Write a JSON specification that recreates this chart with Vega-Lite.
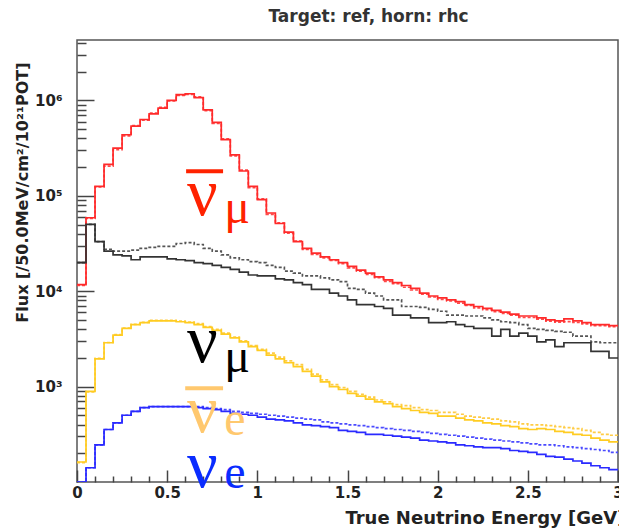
{
  "$schema": "https://vega.github.io/schema/vega-lite/v6.json",
  "width": 541,
  "height": 442,
  "autosize": {"type": "none"},
  "padding": {"left": 77, "top": 40, "right": 1, "bottom": 46},
  "background": "white",
  "config": {
    "view": {"stroke": "#555555", "strokeWidth": 1.5},
    "font": "DejaVu Sans"
  },
  "title": {
    "text": "Target: ref, horn: rhc",
    "font": "DejaVu Sans",
    "fontSize": 17,
    "fontWeight": "bold",
    "color": "#333333",
    "anchor": "middle",
    "dx": 21,
    "offset": 14
  },
  "resolve": {"axis": {"x": "independent", "y": "independent"}},
  "datasets": {
    "flux": [
      {"E": 0, "numubar": 11750, "numubar_b": 11500, "numu": 19950, "numu_b": 19950, "nuebar": 162, "nuebar_b": 160, "nue": 100, "nue_b": 100},
      {"E": 0.05, "numubar": 58880, "numubar_b": 58000, "numu": 50120, "numu_b": 50120, "nuebar": 891, "nuebar_b": 880, "nue": 141, "nue_b": 141},
      {"E": 0.1, "numubar": 125900, "numubar_b": 124000, "numu": 33110, "numu_b": 33110, "nuebar": 1950, "nuebar_b": 1980, "nue": 245, "nue_b": 245},
      {"E": 0.15, "numubar": 213800, "numubar_b": 205000, "numu": 26300, "numu_b": 27540, "nuebar": 2884, "nuebar_b": 2900, "nue": 355, "nue_b": 355},
      {"E": 0.2, "numubar": 316200, "numubar_b": 305000, "numu": 23990, "numu_b": 26300, "nuebar": 3467, "nuebar_b": 3500, "nue": 417, "nue_b": 417},
      {"E": 0.25, "numubar": 436500, "numubar_b": 425000, "numu": 23440, "numu_b": 26300, "nuebar": 4074, "nuebar_b": 4100, "nue": 501, "nue_b": 501},
      {"E": 0.3, "numubar": 537000, "numubar_b": 545000, "numu": 21380, "numu_b": 26920, "nuebar": 4467, "nuebar_b": 4500, "nue": 550, "nue_b": 550},
      {"E": 0.35, "numubar": 631000, "numubar_b": 620000, "numu": 22910, "numu_b": 28180, "nuebar": 4677, "nuebar_b": 4720, "nue": 603, "nue_b": 603},
      {"E": 0.4, "numubar": 724400, "numubar_b": 735000, "numu": 22910, "numu_b": 28840, "nuebar": 4898, "nuebar_b": 4950, "nue": 617, "nue_b": 617},
      {"E": 0.45, "numubar": 831800, "numubar_b": 845000, "numu": 22910, "numu_b": 29510, "nuebar": 4898, "nuebar_b": 4950, "nue": 617, "nue_b": 617},
      {"E": 0.5, "numubar": 1000000, "numubar_b": 990000, "numu": 21880, "numu_b": 29510, "nuebar": 4898, "nuebar_b": 4950, "nue": 617, "nue_b": 617},
      {"E": 0.55, "numubar": 1148000, "numubar_b": 1130000, "numu": 21380, "numu_b": 31620, "nuebar": 4786, "nuebar_b": 4850, "nue": 617, "nue_b": 617},
      {"E": 0.6, "numubar": 1175000, "numubar_b": 1160000, "numu": 20890, "numu_b": 32360, "nuebar": 4677, "nuebar_b": 4750, "nue": 617, "nue_b": 617},
      {"E": 0.65, "numubar": 1072000, "numubar_b": 1090000, "numu": 19950, "numu_b": 30900, "nuebar": 4467, "nuebar_b": 4571, "nue": 603, "nue_b": 617},
      {"E": 0.7, "numubar": 794300, "numubar_b": 780000, "numu": 19500, "numu_b": 28180, "nuebar": 4169, "nuebar_b": 4266, "nue": 589, "nue_b": 603},
      {"E": 0.75, "numubar": 588800, "numubar_b": 575000, "numu": 18620, "numu_b": 26300, "nuebar": 3890, "nuebar_b": 3981, "nue": 575, "nue_b": 589},
      {"E": 0.8, "numubar": 389000, "numubar_b": 395000, "numu": 17780, "numu_b": 23990, "nuebar": 3548, "nuebar_b": 3631, "nue": 550, "nue_b": 575},
      {"E": 0.85, "numubar": 269200, "numubar_b": 262000, "numu": 16980, "numu_b": 22390, "nuebar": 3236, "nuebar_b": 3311, "nue": 525, "nue_b": 550},
      {"E": 0.9, "numubar": 182000, "numubar_b": 186000, "numu": 15850, "numu_b": 21380, "nuebar": 2951, "nuebar_b": 3020, "nue": 513, "nue_b": 537},
      {"E": 0.95, "numubar": 125900, "numubar_b": 122000, "numu": 14790, "numu_b": 20420, "nuebar": 2630, "nuebar_b": 2692, "nue": 501, "nue_b": 525},
      {"E": 1.0, "numubar": 91200, "numubar_b": 93000, "numu": 14450, "numu_b": 19950, "nuebar": 2399, "nuebar_b": 2455, "nue": 479, "nue_b": 513},
      {"E": 1.05, "numubar": 66070, "numubar_b": 64000, "numu": 14450, "numu_b": 18620, "nuebar": 2138, "nuebar_b": 2239, "nue": 457, "nue_b": 501},
      {"E": 1.1, "numubar": 51290, "numubar_b": 52000, "numu": 13490, "numu_b": 17780, "nuebar": 1950, "nuebar_b": 2042, "nue": 447, "nue_b": 490},
      {"E": 1.15, "numubar": 41690, "numubar_b": 40500, "numu": 13180, "numu_b": 16220, "nuebar": 1778, "nuebar_b": 1862, "nue": 437, "nue_b": 479},
      {"E": 1.2, "numubar": 33110, "numubar_b": 33500, "numu": 12300, "numu_b": 15490, "nuebar": 1622, "nuebar_b": 1698, "nue": 417, "nue_b": 468},
      {"E": 1.25, "numubar": 28180, "numubar_b": 27500, "numu": 11750, "numu_b": 14450, "nuebar": 1445, "nuebar_b": 1514, "nue": 398, "nue_b": 457},
      {"E": 1.3, "numubar": 25120, "numubar_b": 24300, "numu": 10470, "numu_b": 14450, "nuebar": 1288, "nuebar_b": 1349, "nue": 389, "nue_b": 447},
      {"E": 1.35, "numubar": 22910, "numubar_b": 22400, "numu": 10470, "numu_b": 13800, "nuebar": 1122, "nuebar_b": 1175, "nue": 380, "nue_b": 427},
      {"E": 1.4, "numubar": 21380, "numubar_b": 21000, "numu": 9550, "numu_b": 13180, "nuebar": 1000, "nuebar_b": 1047, "nue": 372, "nue_b": 417},
      {"E": 1.45, "numubar": 19950, "numubar_b": 19400, "numu": 8913, "numu_b": 12590, "nuebar": 933, "nuebar_b": 977, "nue": 347, "nue_b": 407},
      {"E": 1.5, "numubar": 18200, "numubar_b": 17600, "numu": 8128, "numu_b": 10720, "nuebar": 851, "nuebar_b": 891, "nue": 339, "nue_b": 398},
      {"E": 1.55, "numubar": 16600, "numubar_b": 16200, "numu": 7244, "numu_b": 10470, "nuebar": 794, "nuebar_b": 832, "nue": 331, "nue_b": 389},
      {"E": 1.6, "numubar": 15490, "numubar_b": 15000, "numu": 7244, "numu_b": 9550, "nuebar": 741, "nuebar_b": 776, "nue": 316, "nue_b": 380},
      {"E": 1.65, "numubar": 14130, "numubar_b": 13900, "numu": 6918, "numu_b": 8913, "nuebar": 692, "nuebar_b": 724, "nue": 316, "nue_b": 372},
      {"E": 1.7, "numubar": 13180, "numubar_b": 12700, "numu": 6607, "numu_b": 8128, "nuebar": 661, "nuebar_b": 692, "nue": 309, "nue_b": 363},
      {"E": 1.75, "numubar": 12300, "numubar_b": 12000, "numu": 5623, "numu_b": 8128, "nuebar": 617, "nuebar_b": 646, "nue": 302, "nue_b": 355},
      {"E": 1.8, "numubar": 11480, "numubar_b": 11000, "numu": 5623, "numu_b": 6918, "nuebar": 589, "nuebar_b": 631, "nue": 295, "nue_b": 347},
      {"E": 1.85, "numubar": 10720, "numubar_b": 10300, "numu": 5248, "numu_b": 6918, "nuebar": 562, "nuebar_b": 603, "nue": 288, "nue_b": 339},
      {"E": 1.9, "numubar": 9550, "numubar_b": 9300, "numu": 5248, "numu_b": 6761, "nuebar": 537, "nuebar_b": 575, "nue": 275, "nue_b": 331},
      {"E": 1.95, "numubar": 8913, "numubar_b": 8700, "numu": 4677, "numu_b": 6457, "nuebar": 525, "nuebar_b": 562, "nue": 269, "nue_b": 324},
      {"E": 2.0, "numubar": 8511, "numubar_b": 8200, "numu": 4677, "numu_b": 6166, "nuebar": 490, "nuebar_b": 537, "nue": 263, "nue_b": 316},
      {"E": 2.05, "numubar": 8128, "numubar_b": 7900, "numu": 4786, "numu_b": 5623, "nuebar": 490, "nuebar_b": 537, "nue": 257, "nue_b": 309},
      {"E": 2.1, "numubar": 7762, "numubar_b": 7500, "numu": 4467, "numu_b": 5623, "nuebar": 468, "nuebar_b": 513, "nue": 245, "nue_b": 302},
      {"E": 2.15, "numubar": 7244, "numubar_b": 7100, "numu": 4266, "numu_b": 5495, "nuebar": 447, "nuebar_b": 490, "nue": 240, "nue_b": 295},
      {"E": 2.2, "numubar": 6918, "numubar_b": 6700, "numu": 4074, "numu_b": 5495, "nuebar": 437, "nuebar_b": 479, "nue": 234, "nue_b": 288},
      {"E": 2.25, "numubar": 6607, "numubar_b": 6400, "numu": 4074, "numu_b": 5248, "nuebar": 417, "nuebar_b": 468, "nue": 229, "nue_b": 282},
      {"E": 2.3, "numubar": 6310, "numubar_b": 6100, "numu": 3388, "numu_b": 5012, "nuebar": 407, "nuebar_b": 457, "nue": 229, "nue_b": 275},
      {"E": 2.35, "numubar": 6026, "numubar_b": 5850, "numu": 3981, "numu_b": 4786, "nuebar": 389, "nuebar_b": 437, "nue": 224, "nue_b": 269},
      {"E": 2.4, "numubar": 5754, "numubar_b": 5600, "numu": 3388, "numu_b": 4677, "nuebar": 380, "nuebar_b": 427, "nue": 214, "nue_b": 263},
      {"E": 2.45, "numubar": 5495, "numubar_b": 5300, "numu": 3631, "numu_b": 4467, "nuebar": 363, "nuebar_b": 407, "nue": 209, "nue_b": 257},
      {"E": 2.5, "numubar": 5495, "numubar_b": 5300, "numu": 3388, "numu_b": 4074, "nuebar": 355, "nuebar_b": 398, "nue": 204, "nue_b": 251},
      {"E": 2.55, "numubar": 5248, "numubar_b": 5100, "numu": 2951, "numu_b": 3981, "nuebar": 363, "nuebar_b": 398, "nue": 195, "nue_b": 245},
      {"E": 2.6, "numubar": 5012, "numubar_b": 4850, "numu": 3090, "numu_b": 3890, "nuebar": 355, "nuebar_b": 389, "nue": 186, "nue_b": 245},
      {"E": 2.65, "numubar": 4898, "numubar_b": 4750, "numu": 2630, "numu_b": 3802, "nuebar": 339, "nuebar_b": 380, "nue": 182, "nue_b": 240},
      {"E": 2.7, "numubar": 5129, "numubar_b": 4800, "numu": 2884, "numu_b": 3715, "nuebar": 331, "nuebar_b": 372, "nue": 174, "nue_b": 234},
      {"E": 2.75, "numubar": 4898, "numubar_b": 4700, "numu": 2884, "numu_b": 3388, "nuebar": 316, "nuebar_b": 363, "nue": 166, "nue_b": 229},
      {"E": 2.8, "numubar": 4677, "numubar_b": 4550, "numu": 2884, "numu_b": 3388, "nuebar": 309, "nuebar_b": 347, "nue": 158, "nue_b": 224},
      {"E": 2.85, "numubar": 4467, "numubar_b": 4350, "numu": 2344, "numu_b": 2951, "nuebar": 288, "nuebar_b": 331, "nue": 148, "nue_b": 219},
      {"E": 2.9, "numubar": 4467, "numubar_b": 4350, "numu": 2344, "numu_b": 2884, "nuebar": 275, "nuebar_b": 316, "nue": 141, "nue_b": 214},
      {"E": 2.95, "numubar": 4365, "numubar_b": 4250, "numu": 1995, "numu_b": 2884, "nuebar": 263, "nuebar_b": 309, "nue": 135, "nue_b": 204},
      {"E": 3.0, "numubar": 4365, "numubar_b": 4250, "numu": 1995, "numu_b": 2884, "nuebar": 263, "nuebar_b": 309, "nue": 135, "nue_b": 204}
    ],
    "labels": [
      {"g": "numubar", "nu": "ν", "sub": "μ", "E": 0.61, "Esub": 0.817, "y": 63000, "ysub": 52000},
      {"g": "numu", "nu": "ν", "sub": "μ", "E": 0.61, "Esub": 0.817, "y": 1820, "ysub": 1430},
      {"g": "nuebar", "nu": "ν", "sub": "e", "E": 0.61, "Esub": 0.817, "y": 336, "ysub": 313},
      {"g": "nue", "nu": "ν", "sub": "e", "E": 0.61, "Esub": 0.817, "y": 89, "ysub": 87}
    ],
    "bars": [
      {"g": "numubar", "E1": 0.605, "E2": 0.81, "y": 181000},
      {"g": "nuebar", "E1": 0.6, "E2": 0.81, "y": 962}
    ]
  },
  "layer": [
    {
      "data": {"name": "flux"},
      "transform": [
        {"fold": ["numubar_b", "numu_b", "nuebar_b", "nue_b", "numubar", "numu", "nuebar", "nue"], "as": ["series", "flux"]}
      ],
      "mark": {"type": "line", "interpolate": "step-after", "strokeWidth": 1.7, "clip": true},
      "encoding": {
        "x": {
          "field": "E",
          "type": "quantitative",
          "scale": {"domain": [0, 3], "nice": false, "zero": false},
          "axis": {
            "orient": "bottom",
            "values": [0, 0.5, 1, 1.5, 2, 2.5, 3],
            "format": "~g",
            "tickSize": 12,
            "offset": -12,
            "domainColor": "transparent",
            "tickColor": "#444444",
            "tickWidth": 1.5,
            "gridOpacity": 0,
            "labelFont": "DejaVu Sans",
            "labelFontSize": 15,
            "labelFontWeight": "bold",
            "labelColor": "#222222",
            "labelPadding": 3,
            "labelFlush": false,
            "title": "True Neutrino Energy [GeV]",
            "titleFont": "DejaVu Sans",
            "titleFontSize": 18,
            "titleFontWeight": "bold",
            "titleColor": "#222222",
            "titleAnchor": "end",
            "titleAlign": "right",
            "titleBaseline": "alphabetic",
            "titleX": 548,
            "titleY": 53
          }
        },
        "y": {
          "field": "flux",
          "type": "quantitative",
          "scale": {"type": "log", "domain": [100, 4300000], "nice": false},
          "axis": {
            "orient": "left",
            "values": [1000, 10000, 100000, 1000000],
            "labelExpr": "datum.value==1000 ? '10³' : datum.value==10000 ? '10⁴' : datum.value==100000 ? '10⁵' : '10⁶'",
            "tickSize": 17,
            "offset": -17,
            "domainColor": "transparent",
            "tickColor": "#444444",
            "tickWidth": 1.5,
            "gridOpacity": 0,
            "labelFont": "DejaVu Sans",
            "labelFontSize": 15,
            "labelFontWeight": "bold",
            "labelColor": "#222222",
            "labelPadding": 15,
            "title": "Flux [/50.0MeV/cm²/10²¹POT]",
            "titleFont": "DejaVu Sans",
            "titleFontSize": 16,
            "titleFontWeight": "bold",
            "titleColor": "#222222",
            "titleAnchor": "end",
            "titleX": -72,
            "titleY": 22,
            "titleBaseline": "middle"
          }
        },
        "color": {
          "field": "series",
          "type": "nominal",
          "scale": {
            "domain": ["numubar", "numubar_b", "numu", "numu_b", "nuebar", "nuebar_b", "nue", "nue_b"],
            "range": ["#ff2a2a", "#ff4a4a", "#333333", "#555555", "#ffcc22", "#ffcc44", "#2a2aff", "#4a4aff"]
          },
          "legend": null
        },
        "strokeDash": {
          "field": "series",
          "type": "nominal",
          "scale": {
            "domain": ["numubar", "numubar_b", "numu", "numu_b", "nuebar", "nuebar_b", "nue", "nue_b"],
            "range": [[1, 0], [3, 2], [1, 0], [3, 2], [1, 0], [3, 2], [1, 0], [3, 2]]
          },
          "legend": null
        }
      }
    },
    {
      "data": {"name": "bars"},
      "mark": {"type": "rule", "strokeWidth": 4},
      "encoding": {
        "x": {
          "field": "E1",
          "type": "quantitative",
          "axis": {
            "orient": "bottom",
            "values": [0.1, 0.2, 0.3, 0.4, 0.6, 0.7, 0.8, 0.9, 1.1, 1.2, 1.3, 1.4, 1.6, 1.7, 1.8, 1.9, 2.1, 2.2, 2.3, 2.4, 2.6, 2.7, 2.8, 2.9],
            "labels": false,
            "domainColor": "transparent",
            "gridOpacity": 0,
            "tickSize": 6,
            "offset": -6,
            "tickColor": "#444444",
            "tickWidth": 1.5,
            "title": null
          }
        },
        "x2": {"field": "E2"},
        "y": {
          "field": "y",
          "type": "quantitative",
          "axis": {
            "orient": "left",
            "values": [200, 300, 400, 500, 600, 700, 800, 900, 2000, 3000, 4000, 5000, 6000, 7000, 8000, 9000, 20000, 30000, 40000, 50000, 60000, 70000, 80000, 90000, 200000, 300000, 400000, 500000, 600000, 700000, 800000, 900000, 2000000, 3000000, 4000000],
            "labels": false,
            "domainColor": "transparent",
            "gridOpacity": 0,
            "tickSize": 9,
            "offset": -9,
            "tickColor": "#444444",
            "tickWidth": 1.5,
            "title": null
          }
        },
        "stroke": {
          "field": "g",
          "type": "nominal",
          "scale": {"domain": ["numubar", "nuebar"], "range": ["#ff2200", "#ffc86e"]},
          "legend": null
        }
      }
    },
    {
      "data": {"name": "labels"},
      "mark": {"type": "text", "font": "Liberation Serif", "fontSize": 68, "align": "left", "baseline": "alphabetic"},
      "encoding": {
        "x": {"field": "E", "type": "quantitative", "axis": null},
        "y": {"field": "y", "type": "quantitative", "axis": null},
        "text": {"field": "nu"},
        "fill": {
          "field": "g",
          "type": "nominal",
          "scale": {"domain": ["numubar", "numu", "nuebar", "nue"], "range": ["#ff2200", "#000000", "#ffc86e", "#0a2cff"]},
          "legend": null
        }
      }
    },
    {
      "data": {"name": "labels"},
      "mark": {"type": "text", "font": "Liberation Serif", "fontSize": 48, "align": "left", "baseline": "alphabetic"},
      "encoding": {
        "x": {"field": "Esub", "type": "quantitative", "axis": null},
        "y": {"field": "ysub", "type": "quantitative", "axis": null},
        "text": {"field": "sub"},
        "fill": {
          "field": "g",
          "type": "nominal",
          "scale": {"domain": ["numubar", "numu", "nuebar", "nue"], "range": ["#ff2200", "#000000", "#ffc86e", "#0a2cff"]},
          "legend": null
        }
      }
    }
  ]
}
